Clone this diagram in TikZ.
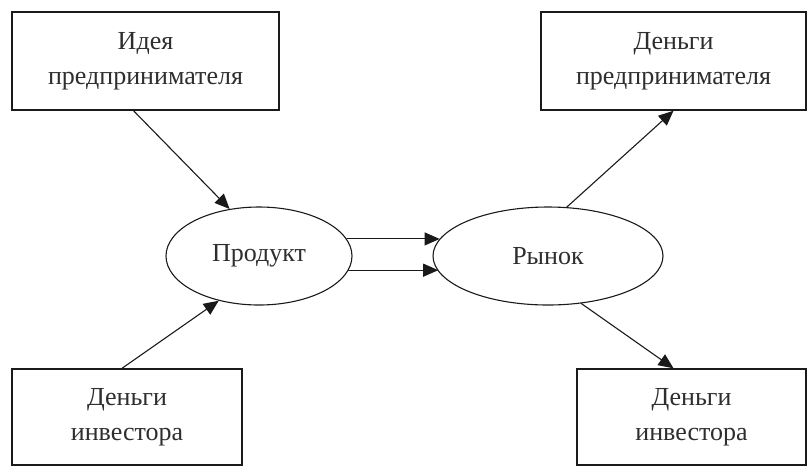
\documentclass[tikz,border=0pt]{standalone}
\usepackage{fontspec}
\setmainfont{Liberation Serif}
\usetikzlibrary{shapes.geometric,arrows.meta}
\definecolor{bizink}{HTML}{1A1A1A}
\definecolor{biztext}{HTML}{2E2E2E}

\begin{document}
\begin{tikzpicture}[x=1pt, y=-1pt, line cap=round,
    >={Triangle[length=15pt,width=13pt]},
    bizbox/.style={draw=bizink, line width=1.4pt, fill=white, align=center,
      text=biztext, font=\fontsize{26}{35}\selectfont, inner sep=0pt},
    bizoval/.style={ellipse, draw=bizink, line width=1.1pt, inner sep=0pt,
      text=biztext, font=\fontsize{26}{30}\selectfont},
    bizarrow/.style={draw=bizink, line width=1.1pt, ->}]
  \useasboundingbox (0,0) rectangle (809,467);
  \node[bizbox, minimum width=267pt, minimum height=98pt] (idea) at (145.5,61)
    {Идея\\предпринимателя};
  \node[bizbox, minimum width=265pt, minimum height=98pt] (owncash) at (673.5,61)
    {Деньги\\предпринимателя};
  \node[bizbox, minimum width=230pt, minimum height=96pt] (invest) at (127,417)
    {Деньги\\инвестора};
  \node[bizbox, minimum width=229pt, minimum height=96pt] (return) at (691.5,417)
    {Деньги\\инвестора};
  \node[bizoval, minimum width=186pt, minimum height=98pt] (product) at (259,256) {Продукт};
  \node[bizoval, minimum width=230pt, minimum height=98pt] (market) at (548,256) {Рынок};
  \draw[bizarrow] ([xshift=-12pt]idea.south) -- (product.122);
  \draw[bizarrow] ([xshift=-5pt]invest.north) -- (product.228);
  \draw[bizarrow] (product.11) -- (product.11 -| market.171);
  \draw[bizarrow] (product.-9) -- (product.-9 -| market.188);
  \draw[bizarrow] (market.69) -- (owncash.south);
  \draw[bizarrow] (market.-55) -- ([xshift=-18pt]return.north);
\end{tikzpicture}
\end{document}
